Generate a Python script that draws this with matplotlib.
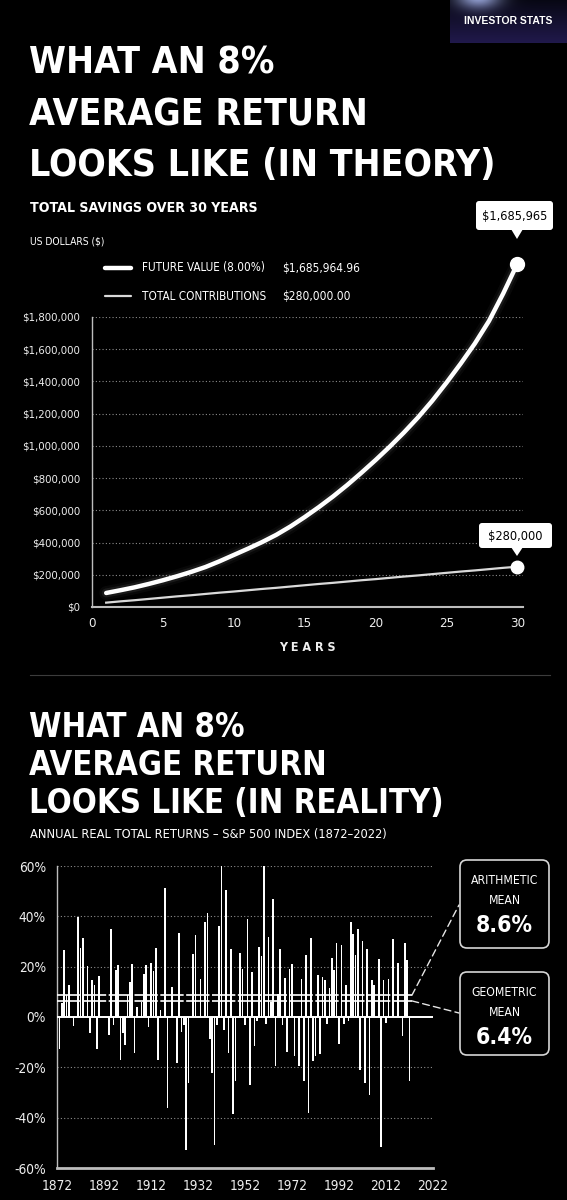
"""
Two-panel infographic: an 8% average return in theory (smooth compounding curve)
vs in reality (annual real total returns of the S&P 500, 1872-2022).
Writes out.png (567x1200 px).
"""
import numpy as np
import matplotlib
matplotlib.use("Agg")
import matplotlib.pyplot as plt
from matplotlib.patches import FancyBboxPatch, Polygon, ConnectionPatch

W, H = 567, 1200
NARROW = ["Noto Sans ExtraCondensed", "DejaVu Sans"]
plt.rcParams.update({"font.family": NARROW, "font.stretch": "condensed", "text.color": "white",
                     "xtick.color": "#eeeeee", "ytick.color": "#eeeeee",
                     "axes.facecolor": "black", "figure.facecolor": "black",
                     "savefig.facecolor": "black"})

# ---- data: theory chart (values in $) ---------------------------------------
years = list(range(1, 31))
future_value = [87e3, 104e3, 122e3, 143e3, 166e3, 191e3, 218e3, 248e3, 284e3, 323e3,
                362e3, 403e3, 448e3, 500e3, 558e3, 620e3, 686e3, 757e3, 833e3, 912e3,
                995e3, 1083e3, 1177e3, 1280e3, 1392e3, 1510e3, 1635e3, 1775e3, 1945e3, 2130e3]
contributions = [27e3, 35e3, 42e3, 50e3, 58e3, 66e3, 73e3, 81e3, 89e3, 96e3,
                 104e3, 112e3, 119e3, 127e3, 135e3, 143e3, 150e3, 158e3, 166e3, 173e3,
                 181e3, 189e3, 196e3, 204e3, 212e3, 220e3, 227e3, 235e3, 243e3, 250e3]
legend_rows = [("FUTURE VALUE (8.00%)", "$1,685,964.96"),
               ("TOTAL CONTRIBUTIONS", "$280,000.00")]
fv_tag, contrib_tag = "$1,685,965", "$280,000"
dollar_ticks = list(range(0, 1_800_001, 200_000))
year_ticks = [0, 5, 10, 15, 20, 25, 30]

# ---- data: reality chart (annual real total return, %) ----------------------
ret_years = [1873, 1874, 1875, 1876, 1877, 1879, 1881, 1882, 1883, 1885, 1886, 1887, 1888,
             1889, 1890, 1894, 1895, 1896, 1897, 1898, 1899, 1900, 1901, 1902, 1903, 1904,
             1905, 1906, 1908, 1909, 1910, 1911, 1912, 1913, 1914, 1915, 1916, 1918, 1919,
             1921, 1923, 1924, 1925, 1926, 1927, 1928, 1930, 1931, 1933, 1935, 1936, 1937,
             1938, 1939, 1940, 1941, 1942, 1943, 1944, 1945, 1946, 1947, 1948, 1950, 1951,
             1952, 1953, 1954, 1955, 1956, 1957, 1958, 1959, 1960, 1961, 1962, 1963, 1964,
             1965, 1966, 1967, 1968, 1969, 1970, 1971, 1972, 1973, 1975, 1976, 1977, 1978,
             1979, 1980, 1981, 1982, 1983, 1984, 1985, 1986, 1987, 1988, 1989, 1990, 1991,
             1992, 1993, 1994, 1995, 1996, 1997, 1998, 1999, 2000, 2001, 2002, 2003, 2004,
             2005, 2006, 2007, 2009, 2010, 2011, 2012, 2013, 2015, 2017, 2019, 2020, 2021,
             2022]
ret_values = [-12.8, 5.4, 26.5, 8.8, 12.6, -3.5, 39.8, 27.3, 31.4, 20.2, -6.5, 14.6, 12.6,
              -12.8, 16.4, -7.2, 34.9, -3.0, 18.7, 20.8, -17.2, -6.5, -11.1, 8.6, 13.9, 21.2,
              -14.4, 3.8, 5.8, 17.2, 20.8, -3.8, 21.5, 18.4, 27.5, -17.0, 2.9, 51.2, -36.0,
              12.1, -18.3, 33.2, -5.8, -3.1, -52.8, -26.4, 25.0, 32.6, 15.2, 37.6, 41.2, -8.6,
              -22.2, -50.7, -3.1, 36.1, 61.4, -5.1, 50.3, -14.2, 26.9, -38.5, -25.6, 25.3, 18.9,
              -3.1, 38.9, -27.1, 17.9, -11.4, -1.7, 27.8, 24.4, 61.4, -2.8, 31.6, 6.1, 46.9,
              -19.4, 9.0, 27.2, -3.1, 15.5, -13.9, 18.9, 21.0, -15.3, -19.4, 15.2, -25.3, 24.8,
              -38.1, 31.3, -17.6, -15.6, 16.8, -14.9, 15.8, 14.9, -2.8, 11.7, 23.5, 18.7, 29.3,
              -10.7, 28.8, -2.8, 12.6, -1.7, 37.6, 32.8, 24.8, 34.9, -21.1, 30.3, -26.3, 26.9,
              -30.8, 14.9, 12.6, 23.1, -51.7, 14.6, -2.4, 15.2, 30.9, 21.5, -7.5, 29.3, 22.7,
              -25.6]
arith_mean, geo_mean = 8.6, 6.4
pct_ticks = [-60, -40, -20, 0, 20, 40, 60]
decade_labels = ["1872", "1892", "1912", "1932", "1952", "1972", "1992", "2012", "2022"]

fig = plt.figure(figsize=(W / 100, H / 100), dpi=100)


def px_axes(left, top, right, bottom):
    """axes from pixel edges (origin top-left)"""
    return fig.add_axes([left / W, 1 - bottom / H, (right - left) / W, (bottom - top) / H])


GRID = dict(color="#8c8c8c", lw=0.8, ls=(0, (1, 2)))

# ---- theory chart ------------------------------------------------------------
ax1 = px_axes(92, 317, 523, 607)
for lw, a in [(10, 0.035), (6.5, 0.07)]:
    ax1.plot(years, future_value, color="white", lw=lw, alpha=a, clip_on=False,
             solid_capstyle="round")
ax1.plot(years, future_value, color="white", lw=3.2, clip_on=False, solid_capstyle="round", zorder=4)
ax1.plot(years, contributions, color="#d9d9d9", lw=1.6, clip_on=False, zorder=4)
ax1.plot(years[-1], future_value[-1], "o", ms=10, color="white", clip_on=False, zorder=5)
ax1.plot(years[-1], contributions[-1], "o", ms=9, color="white", clip_on=False, zorder=5)
ax1.set_xlim(0, 30.4)
ax1.set_ylim(0, 1_800_000)
ax1.set_yticks(dollar_ticks)
ax1.set_yticklabels([f"${v:,.0f}" for v in dollar_ticks])
ax1.set_xticks(year_ticks)
ax1.tick_params(length=0, labelsize=8.2)
ax1.tick_params(axis="y", pad=8.5)
ax1.tick_params(axis="x", pad=7, labelsize=9.5)
for v in dollar_ticks[1:]:
    ax1.axhline(v, zorder=1, **GRID)
for s in ["top", "right"]:
    ax1.spines[s].set_visible(False)
ax1.spines["left"].set_color("#bdbdbd")
ax1.spines["left"].set_linewidth(1.0)
ax1.spines["bottom"].set_color("#bdbdbd")
ax1.spines["bottom"].set_linewidth(1.5)
ax1.set_xlabel("Y E A R S", fontsize=9, fontweight="bold", labelpad=8, color="#eeeeee")

# ---- reality chart -----------------------------------------------------------
ax2 = px_axes(57, 866, 433, 1168)
ax2.bar(ret_years, ret_values, width=0.7, color="white", zorder=2)
ax2.set_xlim(1872, 2032)
ax2.set_ylim(-60, 60)
ax2.set_yticks(pct_ticks)
ax2.set_yticklabels([f"{v}%" for v in pct_ticks])
ax2.set_xticks([1872 + 20 * i for i in range(len(decade_labels))])
ax2.set_xticklabels(decade_labels)
ax2.tick_params(length=0, labelsize=9.8)
ax2.tick_params(axis="y", pad=8)
ax2.tick_params(axis="x", pad=8)
for v in pct_ticks:
    if v in (0, -60):
        continue
    ax2.axhline(v, zorder=1, **GRID)
ax2.axhline(0, color="white", lw=1.4, zorder=3)
for m in (arith_mean, geo_mean):
    ax2.hlines(m, 1872, 2023, color="white", lw=1.2, ls=(0, (14, 1.5)), zorder=3)
for s in ["top", "right"]:
    ax2.spines[s].set_visible(False)
ax2.spines["left"].set_color("#bdbdbd")
ax2.spines["left"].set_linewidth(1.0)
ax2.spines["bottom"].set_color("#bdbdbd")
ax2.spines["bottom"].set_linewidth(2.0)

# ---- overlay in pixel coordinates (titles, legend, callouts) -----------------
ov = fig.add_axes([0, 0, 1, 1], zorder=5)
ov.patch.set_alpha(0)

# logo tile
gy, gx = np.mgrid[0:43, 0:117]
glow = np.exp(-(((gx - 28) / 22.0) ** 2 + ((gy + 4) / 12.0) ** 2))
tile = np.zeros((43, 117, 3))
tile[..., 0] = 0.03 + 0.10 * gy / 43 + 0.55 * glow
tile[..., 1] = 0.03 + 0.07 * gy / 43 + 0.60 * glow
tile[..., 2] = 0.08 + 0.22 * gy / 43 + 0.75 * glow
ov.imshow(np.clip(tile, 0, 1), extent=(450, 567, 43, 0), aspect="auto", zorder=1)
ov.text(508, 21, "INVESTOR STATS", ha="center", va="center", fontsize=7.5,
        fontweight="bold", family=["Liberation Sans", "DejaVu Sans"], fontstretch="normal",
        zorder=2)

TITLE = dict(fontsize=26.8, fontweight="bold", ha="left", va="baseline")
for y, line in zip([74, 125, 176], ["WHAT AN 8%", "AVERAGE RETURN", "LOOKS LIKE (IN THEORY)"]):
    ov.text(29, y, line, **TITLE)
ov.text(30, 212, "TOTAL SAVINGS OVER 30 YEARS", fontsize=10.2, fontweight="bold", va="baseline")
ov.text(30, 245, "US DOLLARS ($)", fontsize=7.4, va="baseline")
for (name, val), y, lw, c in zip(legend_rows, [268, 296], [3.2, 1.6], ["white", "#d9d9d9"]):
    ov.plot([105, 131], [y, y], color=c, lw=lw, solid_capstyle="round")
    ov.text(142, y, name, fontsize=8.4, va="center")
    ov.text(282, y, val, fontsize=8.6, va="center")


def callout(x0, y0, x1, y1, tip_x, tip_y, label):
    ov.add_patch(FancyBboxPatch((x0, y0), x1 - x0, y1 - y0,
                                boxstyle="round,pad=0,rounding_size=3",
                                fc="white", ec="none", zorder=6))
    ov.add_patch(Polygon([(tip_x - 6, y1 - 1), (tip_x + 6, y1 - 1), (tip_x, tip_y)],
                         closed=True, fc="white", ec="none", zorder=6))
    ov.text((x0 + x1) / 2, (y0 + y1) / 2 + 1, label, color="black", fontsize=9.2,
            ha="center", va="center", zorder=7)


callout(476, 201, 553, 230, 517, 239, fv_tag)
callout(479, 523, 552, 548, 517, 556, contrib_tag)

ov.plot([30, 550], [675, 675], color="#3c3c3c", lw=0.8)

TITLE2 = dict(fontsize=23.6, fontweight="bold", ha="left", va="baseline")
for y, line in zip([737, 775, 813], ["WHAT AN 8%", "AVERAGE RETURN", "LOOKS LIKE (IN REALITY)"]):
    ov.text(29, y, line, **TITLE2)
ov.text(30, 838, "ANNUAL REAL TOTAL RETURNS \u2013 S&P 500 INDEX (1872\u20132022)",
        fontsize=9.2, va="baseline")

for (top, bot, name, val, ya) in [(860, 948, "ARITHMETIC", arith_mean, 905),
                                  (972, 1055, "GEOMETRIC", geo_mean, 1013)]:
    ov.add_patch(FancyBboxPatch((460, top), 89, bot - top,
                                boxstyle="round,pad=0,rounding_size=7",
                                fc="black", ec="#d6d6d6", lw=1.2, zorder=6))
    ov.text(504.5, top + 21, name, fontsize=8.7, ha="center", va="center", zorder=7)
    ov.text(504.5, top + 40, "MEAN", fontsize=8.7, ha="center", va="center", zorder=7)
    ov.text(504.5, top + 66, f"{val}%", fontsize=16.5, fontweight="bold",
            ha="center", va="center", zorder=7)
    con = ConnectionPatch(xyA=(2023, val), coordsA=ax2.transData, xyB=(459, ya),
                          coordsB=ov.transData, color="#e6e6e6", lw=1.0, ls=(0, (5, 3)))
    ov.add_artist(con)

ov.set_xlim(0, W)
ov.set_ylim(H, 0)
ov.axis("off")

fig.savefig("out.png", dpi=100)
